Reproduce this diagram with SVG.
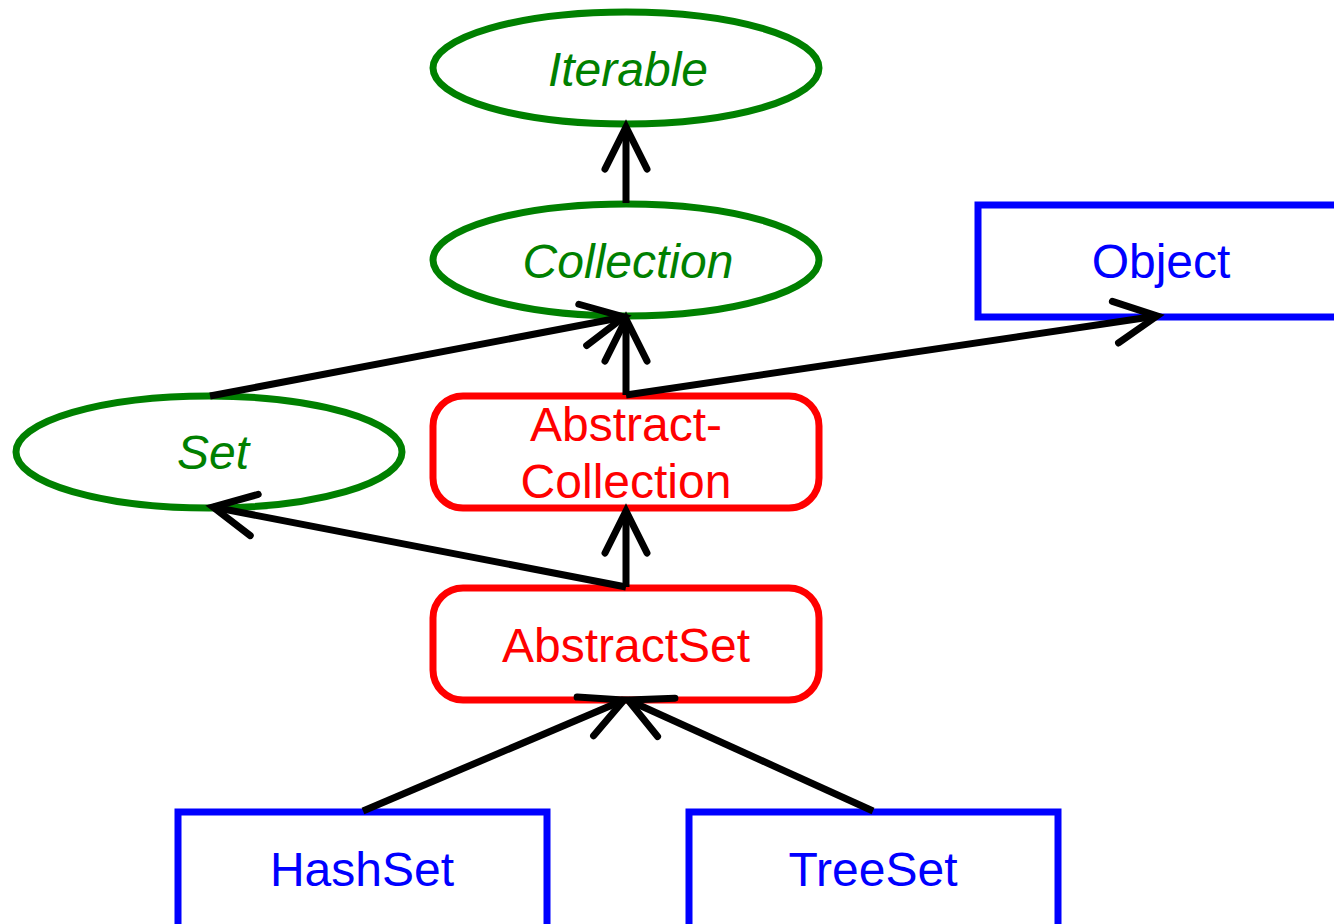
<svg xmlns="http://www.w3.org/2000/svg" width="1334" height="924" viewBox="0 0 1334 924">
<defs>
<marker id="open" markerUnits="userSpaceOnUse" markerWidth="60" markerHeight="60" viewBox="-50 -30 60 60" refX="0" refY="0" orient="auto" overflow="visible">
<path d="M-42,-21 L0,0 L-42,21" fill="none" stroke="#000" stroke-width="7" stroke-linecap="round" stroke-linejoin="miter"/>
</marker>
</defs>
<style>
text{font-family:"Liberation Sans",Arial,sans-serif;font-size:48px;text-anchor:middle}
.iface ellipse{fill:#fff;stroke:#008000;stroke-width:7}
.iface text{fill:#008000;font-style:italic}
.abs rect{fill:#fff;stroke:#ff0000;stroke-width:7}
.abs text{fill:#ff0000}
.cls rect{fill:#fff;stroke:#0000ff;stroke-width:7}
.cls text{fill:#0000ff}
#connectors line{stroke:#000;stroke-width:7;marker-end:url(#open)}
</style>
<rect width="1334" height="924" fill="#fff"/>
<g id="Iterable" class="iface"><ellipse cx="626" cy="68" rx="193" ry="56"/><text x="628" y="86">Iterable</text></g>
<g id="Collection" class="iface"><ellipse cx="626" cy="260" rx="193" ry="56"/><text x="628" y="278">Collection</text></g>
<g id="Set" class="iface"><ellipse cx="209" cy="452" rx="193" ry="56"/><text x="213" y="469">Set</text></g>
<g id="Object" class="cls"><rect x="978" y="205" width="370" height="112"/><text x="1161" y="278">Object</text></g>
<g id="AbstractCollection" class="abs"><rect x="433" y="396" width="386" height="112" rx="30" ry="30"/><text x="626" y="441">Abstract-</text><text x="626" y="498">Collection</text></g>
<g id="AbstractSet" class="abs"><rect x="433" y="588" width="386" height="112" rx="30" ry="30"/><text x="626" y="662">AbstractSet</text></g>
<g id="HashSet" class="cls"><rect x="178" y="812" width="369" height="130"/><text x="362" y="886">HashSet</text></g>
<g id="TreeSet" class="cls"><rect x="689" y="812" width="369" height="130"/><text x="873" y="886">TreeSet</text></g>
<g id="connectors">
<line x1="626" y1="203" x2="626" y2="127"/>
<line x1="210" y1="396" x2="624" y2="317"/>
<line x1="626" y1="395" x2="626" y2="319"/>
<line x1="626" y1="395" x2="1157" y2="316"/>
<line x1="626" y1="587" x2="213" y2="507"/>
<line x1="626" y1="587" x2="626" y2="511"/>
<line x1="363" y1="811" x2="624" y2="700"/>
<line x1="873" y1="811" x2="628" y2="700"/>
</g>
</svg>
